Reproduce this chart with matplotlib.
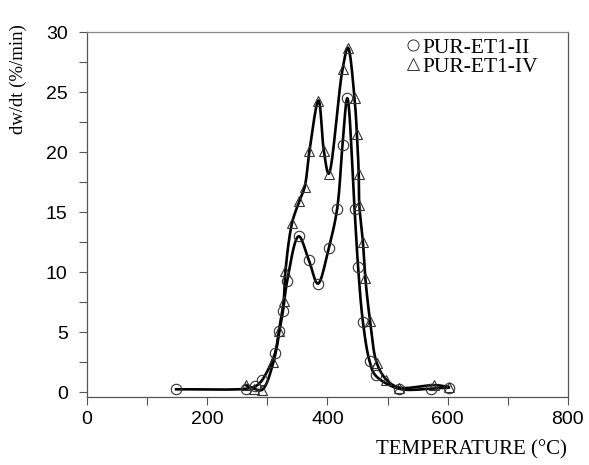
import numpy as np
import matplotlib
matplotlib.use("Agg")
import matplotlib.pyplot as plt
from matplotlib.lines import Line2D

# Data
temp_ii = [148, 265, 280, 291, 313, 320, 326, 333, 352, 369, 384, 402, 416,
           425, 433, 445, 451, 459, 470, 480, 519, 572, 602]
rate_ii = [0.25, 0.3, 0.5, 1.0, 3.3, 5.1, 6.8, 9.3, 13.0, 11.0, 9.05, 12.0, 15.25,
           20.6, 24.5, 15.3, 10.4, 5.85, 2.6, 1.4, 0.3, 0.3, 0.4]

temp_iv = [264, 278, 291, 310, 319, 327, 330, 341, 353, 362, 370, 385, 394, 402,
           425, 434, 445, 449, 452, 453, 459, 463, 471, 482, 498, 519, 578, 602]
rate_iv = [0.6, 0.3, 0.2, 2.5, 5.1, 7.6, 10.1, 14.1, 15.9, 17.1, 20.1, 24.3, 20.1, 18.2,
           26.9, 28.7, 24.5, 21.5, 18.2, 15.6, 12.5, 9.5, 5.9, 2.45, 1.05, 0.4, 0.6, 0.45]

labels = ["PUR-ET1-II", "PUR-ET1-IV"]
x_ticks = [0, 200, 400, 600, 800]
y_ticks = [0, 5, 10, 15, 20, 25, 30]


def smooth(xs, ys, sx=0.6, sy=12.0, n=12):
    """Centripetal Catmull-Rom curve through the points (drawing aid)."""
    P = np.column_stack([np.asarray(xs, float) * sx, np.asarray(ys, float) * sy])
    P = np.vstack([2 * P[0] - P[1], P, 2 * P[-1] - P[-2]])
    out = []
    for i in range(1, len(P) - 2):
        p0, p1, p2, p3 = P[i - 1], P[i], P[i + 1], P[i + 2]
        def tj(ti, a, b):
            return ti + max(np.linalg.norm(b - a), 1e-6) ** 0.5
        t0 = 0.0
        t1 = tj(t0, p0, p1)
        t2 = tj(t1, p1, p2)
        t3 = tj(t2, p2, p3)
        t = np.linspace(t1, t2, n)[:, None]
        A1 = (t1 - t) / (t1 - t0) * p0 + (t - t0) / (t1 - t0) * p1
        A2 = (t2 - t) / (t2 - t1) * p1 + (t - t1) / (t2 - t1) * p2
        A3 = (t3 - t) / (t3 - t2) * p2 + (t - t2) / (t3 - t2) * p3
        B1 = (t2 - t) / (t2 - t0) * A1 + (t - t0) / (t2 - t0) * A2
        B2 = (t3 - t) / (t3 - t1) * A2 + (t - t1) / (t3 - t1) * A3
        C = (t2 - t) / (t2 - t1) * B1 + (t - t1) / (t2 - t1) * B2
        out.append(C)
    C = np.vstack(out)
    return C[:, 0] / sx, C[:, 1] / sy


fig = plt.figure(figsize=(5.89, 4.65), dpi=100)
ax = fig.add_axes([0.148, 0.146, 0.816, 0.785])

for xs, ys, mk in [(temp_ii, rate_ii, 'o'), (temp_iv, rate_iv, '^')]:
    cx, cy = smooth(xs, ys)
    ax.plot(cx, cy, color='black', lw=1.9, zorder=2)
    ax.plot(xs, ys, linestyle='none', marker=mk, markersize=7.5,
            markerfacecolor='none', markeredgecolor='#333333',
            markeredgewidth=0.8, zorder=3)

ax.set_xlim(0, 800)
ax.set_ylim(-0.4, 30)
ax.set_xticks(range(0, 801, 100))
ax.set_xticklabels([str(v) if v in x_ticks else '' for v in range(0, 801, 100)])
ax.set_yticks(y_ticks)
ax.set_yticks(np.arange(2.5, 30, 5), minor=True)
ax.tick_params(axis='both', direction='out', length=6, width=0.8,
               colors='#555555', labelcolor='black')
ax.tick_params(axis='y', pad=8)
ax.tick_params(axis='x', pad=4)
ax.tick_params(axis='y', which='minor', direction='out', length=6, width=0.8, colors='#555555')
for lab in ax.get_xticklabels() + ax.get_yticklabels():
    lab.set_fontfamily('Liberation Sans')
    lab.set_fontsize(14)
for s in ax.spines.values():
    s.set_color('#555555')
    s.set_linewidth(0.9)
ax.spines['top'].set_color('#888888')

ax.set_ylabel('dw/dt (%/min)', fontfamily='Liberation Serif', fontsize=13.5)
ax.yaxis.set_label_coords(-0.125, 0.87)
fig.text(0.80, 0.012, 'TEMPERATURE (°C)', fontfamily=['Liberation Serif', 'DejaVu Serif'],
         fontsize=15, ha='center', va='bottom')

handles = [Line2D([], [], linestyle='none', marker='o', markersize=8,
                  markerfacecolor='none', markeredgecolor='#333333', markeredgewidth=0.7),
           Line2D([], [], linestyle='none', marker='^', markersize=8,
                  markerfacecolor='none', markeredgecolor='#333333', markeredgewidth=0.7)]
ax.legend(handles, labels, loc='upper right', bbox_to_anchor=(0.965, 1.02), frameon=False,
          prop={'family': 'Liberation Serif', 'size': 15.5}, handlelength=0.6,
          handletextpad=0.15, labelspacing=-0.05, borderaxespad=0.2)

fig.savefig('out.png', dpi=100, facecolor='white')
